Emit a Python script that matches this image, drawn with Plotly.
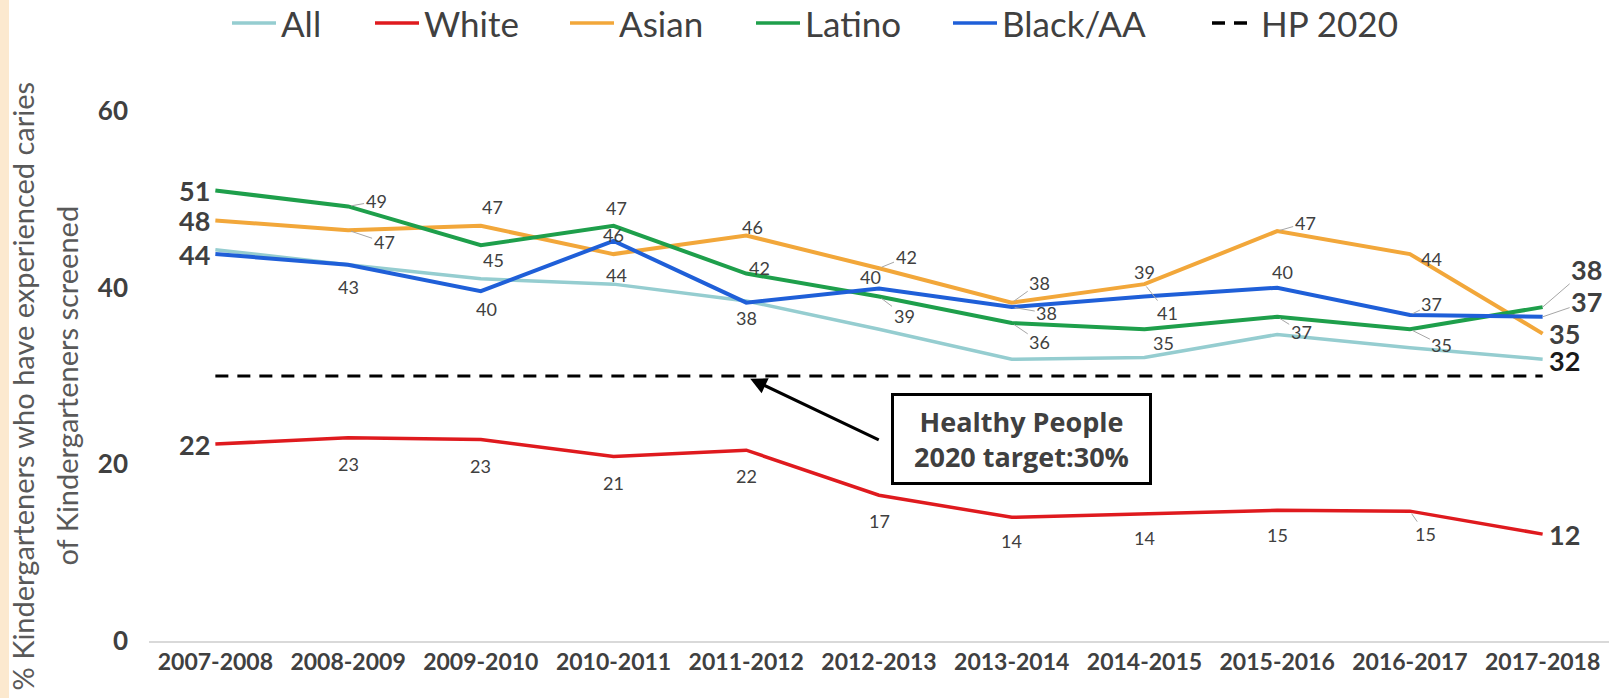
import plotly.graph_objects as go

# ---------------- data ----------------
years = ["2007-2008", "2008-2009", "2009-2010", "2010-2011", "2011-2012", "2012-2013",
         "2013-2014", "2014-2015", "2015-2016", "2016-2017", "2017-2018"]

all_vals    = [44.3, 42.6, 41.0, 40.4, 38.5, 35.3, 31.9, 32.1, 34.7, 33.2, 31.9]
white_vals  = [22.3, 23.0, 22.8, 20.9, 21.6, 16.5, 14.0, 14.4, 14.8, 14.7, 12.1]
asian_vals  = [47.6, 46.5, 47.0, 43.8, 45.9, 42.2, 38.3, 40.4, 46.4, 43.8, 34.8]
latino_vals = [51.0, 49.2, 44.8, 47.0, 41.6, 39.0, 36.0, 35.3, 36.7, 35.3, 37.8]
black_vals  = [43.8, 42.6, 39.6, 45.3, 38.3, 39.9, 37.8, 39.0, 40.0, 36.9, 36.7]
hp_target = 30

all_labels    = ["",   "",   "",   "",   "",   "",   "",   "",   "",   "",   "32"]
white_labels  = ["22", "23", "23", "21", "22", "17", "14", "14", "15", "15", "12"]
asian_labels  = ["48", "47", "47", "44", "46", "42", "38", "41", "47", "44", "35"]
latino_labels = ["51", "49", "45", "47", "42", "39", "36", "35", "37", "35", "38"]
black_labels  = ["44", "43", "40", "46", "38", "40", "38", "39", "40", "37", "37"]

y_ticks = [0, 20, 40, 60]

# ---------------- styling ----------------
TXT = "#404040"
FONT = "Lato"
W, H = 1614, 698
ML, MR, MT, MB = 149, 5, 111, 57
PW, PH = W - ML - MR, H - MT - MB


def px(x):
    return (x - ML) / PW


def py(y):
    return (H - MB - y) / PH


# label placement: (dx, dy, kind)  kind: L=end-left bold, R=end-right bold, P=plain, Q=leader
pos = {
    "All": [None] * 10 + [(22, -1, "R")],
    "White": [(0, 0, "L"), (0, -26, "P"), (0, -26, "P"), (0, -27, "P"), (0, -26, "P"),
              (0, -26, "P"), (0, -24, "P"), (0, -24, "P"), (0, -25, "P"), (16, -23, "Q"),
              (22, 0, "R")],
    "Asian": [(0, 0, "L"), (36, -12, "Q"), (12, 19, "P"), (3, -21, "P"), (6, 9, "P"),
              (27, 11, "Q"), (28, 20, "Q"), (23, -29, "Q"), (28, 8, "Q"), (22, -5, "P"),
              (22, 0, "R")],
    "Latino": [(0, 0, "L"), (28, 5, "Q"), (13, -15, "P"), (3, 18, "P"), (13, 6, "P"),
               (25, -19, "Q"), (28, -19, "Q"), (19, -14, "P"), (24, -15, "Q"), (32, -16, "Q"),
               (44, 38, "QR")],
    "Black/AA": [(0, 0, "L"), (0, -22, "P"), (6, -18, "P"), (0, 6, "P"), (0, -15, "P"),
                 (-9, 12, "P"), (35, -6, "Q"), (0, 25, "P"), (5, 16, "P"), (22, 11, "Q"),
                 (44, 15, "QR")],
}

series = [
    ("All", all_vals, all_labels, "#95CDD0", 3.5),
    ("White", white_vals, white_labels, "#DF1A1E", 3.5),
    ("Asian", asian_vals, asian_labels, "#F2A73A", 4),
    ("Latino", latino_vals, latino_labels, "#1E9F4B", 4),
    ("Black/AA", black_vals, black_labels, "#1F5FD8", 4),
]
HP_DASH = "13px,9px"

fig = go.Figure()
for name, vals, _, color, w in series:
    fig.add_trace(go.Scatter(x=years, y=vals, mode="lines", name=name,
                             line=dict(color=color, width=w)))
fig.add_trace(go.Scatter(x=years, y=[hp_target] * len(years), mode="lines", name="HP 2020",
                         line=dict(color="black", width=3, dash=HP_DASH)))

annotations = []
for name, vals, labels, color, w in series:
    for i, (v, t) in enumerate(zip(vals, labels)):
        p = pos[name][i]
        if not t or p is None:
            continue
        dx, dy, kind = p
        if kind == "L":
            annotations.append(dict(x=years[i], y=v, text=t, showarrow=False, xanchor="right",
                                    xshift=-3, yshift=dy,
                                    font=dict(family=FONT, size=27, color=TXT, weight="bold")))
        elif kind == "R":
            annotations.append(dict(x=years[i], y=v, text=t, showarrow=False, xanchor="center",
                                    xshift=dx, yshift=dy,
                                    font=dict(family=FONT, size=27,
                                              color="#1a1a1a" if name == "All" else TXT,
                                              weight="bold")))
        elif kind == "QR":
            annotations.append(dict(x=years[i], y=v, text=t, showarrow=True, ax=dx, ay=-dy,
                                    arrowhead=0, arrowwidth=1, arrowcolor="#A6A6A6",
                                    font=dict(family=FONT, size=27, color=TXT, weight="bold")))
        elif kind == "Q":
            annotations.append(dict(x=years[i], y=v, text=t, showarrow=True, ax=dx, ay=-dy,
                                    arrowhead=0, arrowwidth=1, arrowcolor="#A6A6A6",
                                    standoff=3,
                                    font=dict(family=FONT, size=18, color=TXT)))
        else:
            annotations.append(dict(x=years[i], y=v, text=t, showarrow=False,
                                    xshift=dx, yshift=dy,
                                    font=dict(family=FONT, size=18, color=TXT)))

# Healthy People callout
annotations.append(dict(xref="paper", yref="paper", x=px(1021), y=py(439),
                        text="Healthy People<br>2020 target:30%", showarrow=False,
                        width=239, height=70, align="center", valign="middle",
                        bgcolor="white", bordercolor="black", borderwidth=3, borderpad=8,
                        font=dict(family="Open Sans", size=27, color=TXT, weight="bold")))
annotations.append(dict(x=4.03, y=29.7, xref="x", yref="y", text="", showarrow=True,
                        ax=130, ay=62, arrowhead=2, arrowsize=1.1, arrowwidth=3,
                        arrowcolor="black"))

# y-axis title (two lines)
annotations.append(dict(xref="paper", yref="paper", x=px(2), y=py(386),
                        text="% Kindergarteners who have experienced caries", textangle=-90,
                        showarrow=False, font=dict(family=FONT, size=29, color="#595959")))
annotations.append(dict(xref="paper", yref="paper", x=px(46), y=py(386),
                        text="of Kindergarteners screened", textangle=-90,
                        showarrow=False, font=dict(family=FONT, size=29, color="#595959")))

# manual legend
legend_x = [232, 375, 570, 756, 953, 1212]
legend_y = 23
shapes = [dict(type="rect", xref="paper", yref="paper", x0=px(0), x1=px(9),
               y0=py(H), y1=py(0), fillcolor="#FCE9CF", line=dict(width=0), layer="below")]
legend_items = [(s[0], s[3], "solid") for s in series] + [("HP 2020", "black", HP_DASH)]
for (name, color, dash), lx in zip(legend_items, legend_x):
    shapes.append(dict(type="line", xref="paper", yref="paper", x0=px(lx), x1=px(lx + 44),
                       y0=py(legend_y), y1=py(legend_y),
                       line=dict(color=color, width=3.5, dash=dash)))
    annotations.append(dict(xref="paper", yref="paper", x=px(lx + 47), y=py(legend_y),
                            xanchor="left", yanchor="middle", text=name, showarrow=False,
                            font=dict(family=FONT, size=35, color=TXT)))

fig.update_layout(
    width=W, height=H,
    margin=dict(l=ML, r=MR, t=MT, b=MB),
    paper_bgcolor="white", plot_bgcolor="white",
    showlegend=False,
    annotations=annotations,
    shapes=shapes,
)
fig.update_xaxes(type="category", range=[-0.5, 10.5], showgrid=False, zeroline=False,
                 showline=True, linecolor="#D9D9D9", linewidth=1.5, ticks="",
                 tickfont=dict(family=FONT, size=23, color=TXT, weight="bold"))
fig.update_yaxes(range=[0, 60], tickvals=y_ticks, showgrid=False, zeroline=False,
                 showline=False, ticks="", ticklabelstandoff=20,
                 tickfont=dict(family=FONT, size=26, color=TXT, weight="bold"))

fig.write_html("out.html")
